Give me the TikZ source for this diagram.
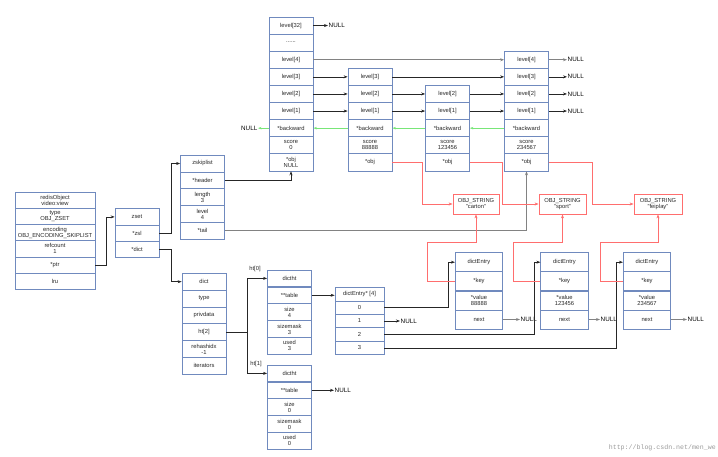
\documentclass[tikz,border=0pt]{standalone}
\usepackage{fontspec}
\setmainfont{Liberation Sans}
\newfontfamily\wmfont{Liberation Mono}
\usetikzlibrary{arrows.meta}
\definecolor{boxc}{RGB}{112,138,190}
\definecolor{txtc}{RGB}{40,40,40}
\definecolor{grn}{RGB}{120,230,120}
\definecolor{redl}{RGB}{255,110,110}
\definecolor{grayl}{RGB}{130,130,130}
\newcommand\cell[6]{\node[cellbox,minimum width=#4pt,minimum height=#5pt] (#1) at (#2,#3) {#6};}
\begin{document}
\begin{tikzpicture}[x=1pt,y=-1pt,
  cellbox/.style={draw=boxc,line width=0.7pt,fill=white,inner sep=0pt,align=center,text=txtc,font=\fontsize{5.8}{6}\selectfont},
  lbl/.style={inner sep=0.5pt,text=txtc,font=\fontsize{5.8}{6}\selectfont},
  nul/.style={inner sep=0.5pt,text=black,font=\fontsize{6.3}{6.5}\selectfont},
  arr/.style={draw=black!85,line width=0.6pt,-{Stealth[length=4pt,width=3pt]}},
  garr/.style={draw=grayl,line width=0.9pt,-{Stealth[length=4pt,width=3pt]}},
  grarr/.style={draw=grn,line width=0.6pt,-{Stealth[length=3.5pt,width=2.5pt]}},
  rarr/.style={draw=redl,line width=0.7pt,-{Stealth[length=4pt,width=3pt]}},
  osbox/.style={draw=redl,line width=0.8pt,fill=white,inner sep=0pt,align=center,text=txtc,font=\fontsize{5.8}{6}\selectfont,minimum height=20pt}]
\useasboundingbox (0,0) rectangle (718,457);
% ---------- skiplist header ----------
\cell{h0}{291}{25.55}{44}{17.1}{level[32]}
\cell{h1}{291}{42.65}{44}{17.1}{......}
\cell{h2}{291}{59.75}{44}{17.1}{level[4]}
\cell{h3}{291}{76.85}{44}{17.1}{level[3]}
\cell{h4}{291}{93.95}{44}{17.1}{level[2]}
\cell{h5}{291}{111.05}{44}{17.1}{level[1]}
\cell{h6}{291}{128.15}{44}{17.1}{*backward}
\cell{h7}{291}{145.25}{44}{17.1}{score\\0}
\cell{h8}{291}{162.35}{44}{17.1}{*obj\\NULL}
% ---------- node 1 ----------
\cell{aa3}{370}{76.85}{44}{17.1}{level[3]}
\cell{aa4}{370}{93.95}{44}{17.1}{level[2]}
\cell{aa5}{370}{111.05}{44}{17.1}{level[1]}
\cell{aa6}{370}{128.15}{44}{17.1}{*backward}
\cell{aa7}{370}{145.25}{44}{17.1}{score\\88888}
\cell{aa8}{370}{162.35}{44}{17.1}{*obj}
% ---------- node 2 ----------
\cell{bb4}{447.5}{93.95}{44}{17.1}{level[2]}
\cell{bb5}{447.5}{111.05}{44}{17.1}{level[1]}
\cell{bb6}{447.5}{128.15}{44}{17.1}{*backward}
\cell{bb7}{447.5}{145.25}{44}{17.1}{score\\123456}
\cell{bb8}{447.5}{162.35}{44}{17.1}{*obj}
% ---------- node 3 ----------
\cell{cc2}{526.5}{59.75}{44}{17.1}{level[4]}
\cell{cc3}{526.5}{76.85}{44}{17.1}{level[3]}
\cell{cc4}{526.5}{93.95}{44}{17.1}{level[2]}
\cell{cc5}{526.5}{111.05}{44}{17.1}{level[1]}
\cell{cc6}{526.5}{128.15}{44}{17.1}{*backward}
\cell{cc7}{526.5}{145.25}{44}{17.1}{score\\234567}
\cell{cc8}{526.5}{162.35}{44}{17.1}{*obj}
% NULL labels (skiplist)
\node[nul,anchor=west] (nl32) at (328,25.55) {NULL};
\node[nul,anchor=east] (nlbk) at (258,128.15) {NULL};
\node[nul,anchor=west] (nl4) at (567,59.75) {NULL};
\node[nul,anchor=west] (nl3) at (567,76.85) {NULL};
\node[nul,anchor=west] (nl2) at (567,93.95) {NULL};
\node[nul,anchor=west] (nl1) at (567,111.05) {NULL};
% level links
\draw[arr] (h0.east) -- (nl32.west);
\draw[garr] (h2.east) -- (cc2.west);
\draw[arr] (h3.east) -- (aa3.west);
\draw[arr] (aa3.east) -- (cc3.west);
\draw[arr] (h4.east) -- (aa4.west);
\draw[arr] (aa4.east) -- (bb4.west);
\draw[arr] (bb4.east) -- (cc4.west);
\draw[arr] (h5.east) -- (aa5.west);
\draw[arr] (aa5.east) -- (bb5.west);
\draw[arr] (bb5.east) -- (cc5.west);
\draw[garr] (cc2.east) -- (nl4.west);
\draw[arr] (cc3.east) -- (nl3.west);
\draw[arr] (cc4.east) -- (nl2.west);
\draw[arr] (cc5.east) -- (nl1.west);
% backward links
\draw[grarr] (cc6.west) -- (bb6.east);
\draw[grarr] (bb6.west) -- (aa6.east);
\draw[grarr] (aa6.west) -- (h6.east);
\draw[grarr] (h6.west) -- (nlbk.east);
% ---------- redisObject ----------
\cell{ro0}{55}{200.4}{80}{16.17}{redisObject\\video:view}
\cell{ro1}{55}{216.6}{80}{16.17}{type\\OBJ\_ZSET}
\cell{ro2}{55}{232.7}{80}{16.17}{encoding\\OBJ\_ENCODING\_SKIPLIST}
\cell{ro3}{55}{248.9}{80}{16.17}{refcount\\1}
\cell{ro4}{55}{265.1}{80}{16.17}{*ptr}
\cell{ro5}{55}{281.2}{80}{16.17}{lru}
% ---------- zset ----------
\cell{zs0}{137}{216.9}{44}{16.4}{zset}
\cell{zs1}{137}{233.2}{44}{16.4}{*zsl}
\cell{zs2}{137}{249.6}{44}{16.4}{*dict}
% ---------- zskiplist ----------
\cell{zl0}{202.5}{163.5}{44}{16.8}{zskiplist}
\cell{zl1}{202.5}{180.3}{44}{16.8}{*header}
\cell{zl2}{202.5}{197.1}{44}{16.8}{length\\3}
\cell{zl3}{202.5}{213.9}{44}{16.8}{level\\4}
\cell{zl4}{202.5}{230.7}{44}{16.8}{*tail}
% ---------- dict ----------
\cell{dd0}{204}{281.7}{44}{16.8}{dict}
\cell{dd1}{204}{298.5}{44}{16.8}{type}
\cell{dd2}{204}{315.3}{44}{16.8}{privdata}
\cell{dd3}{204}{332.1}{44}{16.8}{ht[2]}
\cell{dd4}{204}{348.9}{44}{16.8}{rehashidx\\-1}
\cell{dd5}{204}{365.7}{44}{16.8}{iterators}
% ---------- dictht 0 ----------
\cell{ta0}{289.5}{278.4}{44}{16.86}{dictht}
\cell{ta1}{289.5}{295.3}{44}{16.86}{**table}
\cell{ta2}{289.5}{312.1}{44}{16.86}{size\\4}
\cell{ta3}{289.5}{329.0}{44}{16.86}{sizemask\\3}
\cell{ta4}{289.5}{345.8}{44}{16.86}{used\\3}
% ---------- dictht 1 ----------
\cell{tb0}{289.5}{373.4}{44}{16.86}{dictht}
\cell{tb1}{289.5}{390.3}{44}{16.86}{**table}
\cell{tb2}{289.5}{407.1}{44}{16.86}{size\\0}
\cell{tb3}{289.5}{424.0}{44}{16.86}{sizemask\\0}
\cell{tb4}{289.5}{440.8}{44}{16.86}{used\\0}
% ---------- dictEntry* [4] ----------
\cell{ar0}{359.5}{294.2}{49}{13.4}{dictEntry* [4]}
\cell{ar1}{359.5}{307.6}{49}{13.4}{0}
\cell{ar2}{359.5}{321.0}{49}{13.4}{1}
\cell{ar3}{359.5}{334.4}{49}{13.4}{2}
\cell{ar4}{359.5}{347.8}{49}{13.4}{3}
% ---------- dictEntry 1..3 ----------
\cell{ea0}{479}{262.2}{47.5}{19.08}{dictEntry}
\cell{ea1}{479}{281.3}{47.5}{19.08}{*key}
\cell{ea2}{479}{300.4}{47.5}{19.08}{*value\\88888}
\cell{ea3}{479}{319.5}{47.5}{19.08}{next}
\cell{eb0}{564.5}{262.2}{47.5}{19.08}{dictEntry}
\cell{eb1}{564.5}{281.3}{47.5}{19.08}{*key}
\cell{eb2}{564.5}{300.4}{47.5}{19.08}{*value\\123456}
\cell{eb3}{564.5}{319.5}{47.5}{19.08}{next}
\cell{ec0}{647}{262.2}{47.5}{19.08}{dictEntry}
\cell{ec1}{647}{281.3}{47.5}{19.08}{*key}
\cell{ec2}{647}{300.4}{47.5}{19.08}{*value\\234567}
\cell{ec3}{647}{319.5}{47.5}{19.08}{next}
% ---------- OBJ_STRING ----------
\node[osbox,minimum width=46pt] (os1) at (476,204) {OBJ\_STRING\\"carton"};
\node[osbox,minimum width=47pt] (os2) at (562.5,204) {OBJ\_STRING\\"sport"};
\node[osbox,minimum width=48pt] (os3) at (658,204) {OBJ\_STRING\\"feiplay"};
% NULL labels (dict)
\node[nul,anchor=west] (nt1) at (334,390.3) {NULL};
\node[nul,anchor=west] (na1) at (400,321) {NULL};
\node[nul,anchor=west] (ne1) at (520,319.5) {NULL};
\node[nul,anchor=west] (ne2) at (600,319.5) {NULL};
\node[nul,anchor=west] (ne3) at (687,319.5) {NULL};
\node[lbl] (lh0) at (255,269) {ht[0]};
\node[lbl] (lh1) at (256,364) {ht[1]};
% ---------- connectors ----------
\draw[arr] (ro4.east) -- ++(10.5,0) |- (zs0.west);
\draw[arr] (zs1.east) -- ++(11.5,0) |- (zl0.west);
\draw[arr] (zs2.east) -- ++(11.5,0) |- (dd0.west);
\draw[arr] (zl1.east) -| (h8.south);
\draw[draw=grayl,line width=0.8pt,-{Stealth[length=4pt,width=3pt]}] (zl4.east) -| (cc8.south);
\draw[arr] (dd3.east) -- ++(21,0) |- (ta0.west);
\draw[arr] (dd3.east) -- ++(21,0) |- (tb0.west);
\draw[arr] (ta1.east) -- (ta1.east -| ar0.west);
\draw[arr] (tb1.east) -- (nt1.west);
\draw[arr] (ar1.east) -- ++(64,0) |- (ea0.west);
\draw[arr] (ar2.east) -- (na1.west);
\draw[arr] (ar3.east) -- ++(150,0) |- (eb0.west);
\draw[arr] (ar4.east) -- ++(232,0) |- (ec0.west);
\draw[garr] (ea3.east) -- (ne1.west);
\draw[garr] (eb3.east) -- (ne2.west);
\draw[garr] (ec3.east) -- (ne3.west);
% obj -> OBJ_STRING
\draw[rarr] (aa8.east) -- ++(30,0) |- (os1.west);
\draw[rarr] (bb8.east) -- ++(32.5,0) |- (os2.west);
\draw[rarr] (cc8.east) -- ++(43,0) |- (os3.west);
% key -> OBJ_STRING
\draw[rarr] (ea1.west) -- ++(-28,0) |- ([yshift=-28pt]os1.south) -- (os1.south);
\draw[rarr] (eb1.west) -- ++(-27,0) |- ([yshift=-28pt]os2.south) -- (os2.south);
\draw[rarr] (ec1.west) -- ++(-23,0) |- ([yshift=-28pt]os3.south) -- (os3.south);
% watermark
\node[inner sep=0pt,anchor=east,text=black!40,font=\wmfont\fontsize{6.6}{7}\selectfont] (wm) at (716,448) {http://blog.csdn.net/men\_we};
\end{tikzpicture}
\end{document}
